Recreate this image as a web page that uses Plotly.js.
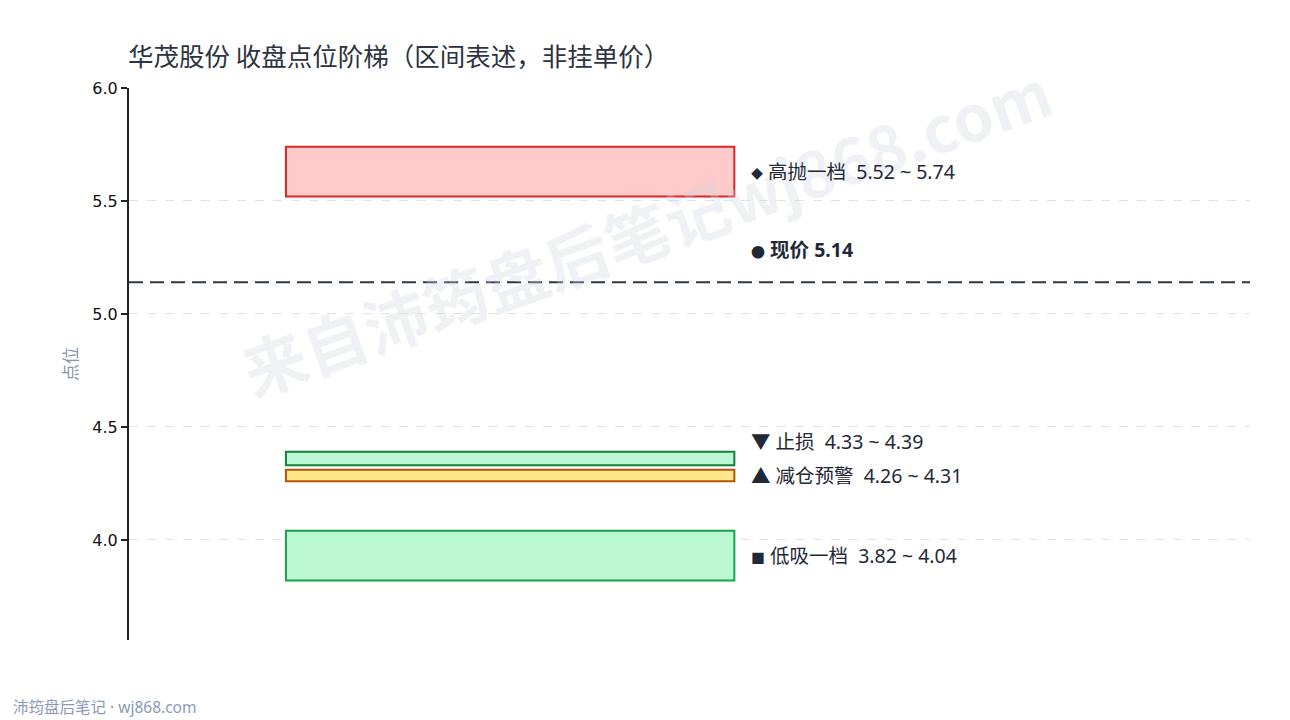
<!DOCTYPE html>
<html><head><meta charset="utf-8">
<script src="https://cdn.plot.ly/plotly-3.0.1.min.js"></script>
<style>html,body{margin:0;padding:0;background:#fff;}#chart{width:1290px;height:720px;}</style>
</head><body><div id="chart"></div>
<script>
const zoneNames = ["高抛一档", "止损", "减仓预警", "低吸一档"];
const zoneIcons = ["◆", "▼", "▲", "■"];
const zoneLow = [5.52, 4.33, 4.26, 3.82];
const zoneHigh = [5.74, 4.39, 4.31, 4.04];
const zoneFill = ["#fecaca", "#bbf7d0", "#fde68a", "#bbf7d0"];
const zoneLine = ["#dc2626", "#15803d", "#b45309", "#16a34a"];
const labelShift = [0, 17, 0, 0];
const currentPrice = 5.14;
const yTicks = [4.0, 4.5, 5.0, 5.5, 6.0];

const FONT = "Noto Sans, Noto Sans CJK SC, sans-serif";
const CJK = "Noto Sans CJK SC, Noto Sans, sans-serif";
const shapes = [];
const annotations = [];
annotations.push({xref: "paper", yref: "paper", x: 0.461, y: 0.745, xanchor: "center", yanchor: "middle", showarrow: false, textangle: -19.5,
  text: "<b>来自沛筠盘后笔记wj868.com</b>", font: {family: CJK, size: 64, color: "rgba(205,211,225,0.32)"}});
zoneNames.forEach((n, i) => {
  shapes.push({type: "rect", xref: "x", yref: "y", x0: 0.14, x1: 0.54, y0: zoneLow[i], y1: zoneHigh[i],
    fillcolor: zoneFill[i], line: {color: zoneLine[i], width: 2}, layer: "above"});
  const icon = i === 0 ? '<span style="font-size:12px">' + zoneIcons[i] + '</span>' :
               (i === 3 ? '<span style="font-size:14px">' + zoneIcons[i] + '</span>' : zoneIcons[i]);
  annotations.push({xref: "x", yref: "y", x: 0.553, y: (zoneLow[i] + zoneHigh[i]) / 2, yshift: labelShift[i],
    xanchor: "left", yanchor: "middle", showarrow: false,
    text: icon + " " + n + "&nbsp;&nbsp;" + zoneLow[i].toFixed(2) + "&nbsp;~&nbsp;" + zoneHigh[i].toFixed(2),
    font: {family: FONT, size: 19.5, color: "#1f2937"}});
});
shapes.push({type: "line", xref: "paper", yref: "y", x0: 0, x1: 1, y0: currentPrice, y1: currentPrice,
  line: {color: "#2d3748", width: 2, dash: "14px,7px"}});
annotations.push({xref: "x", yref: "y", x: 0.553, y: currentPrice, yshift: 33, xanchor: "left", yanchor: "middle",
  showarrow: false, text: '<span style="font-size:14px">●</span> <b>现价 ' + currentPrice.toFixed(2) + "</b>", font: {family: FONT, size: 19.5, color: "#1f2937"}});
annotations.push({xref: "paper", yref: "paper", x: -118/1121, y: -67/552, xanchor: "left", yanchor: "middle", showarrow: false,
  text: "沛筠盘后笔记&nbsp;·&nbsp;wj868.com", font: {family: FONT, size: 15.5, color: "#8a9ab8"}});

const layout = {
  width: 1290, height: 720,
  margin: {l: 129, r: 40, t: 88, b: 80},
  paper_bgcolor: "#ffffff", plot_bgcolor: "#ffffff",
  title: {text: "华茂股份 收盘点位阶梯（区间表述，非挂单价）", x: 128/1290, xanchor: "left", y: 1 - 57/720, yanchor: "middle",
    font: {family: CJK, size: 25.5, color: "#2d3340"}},
  xaxis: {range: [0, 1], visible: false, fixedrange: true},
  yaxis: {range: [3.557, 6.0], tickvals: yTicks, ticktext: yTicks.map(v => v.toFixed(1)),
    showline: true, linecolor: "#222", linewidth: 2, ticks: "outside", ticklen: 6, tickwidth: 1.5, tickcolor: "#222",
    showgrid: true, gridcolor: "#e2e2e2", griddash: "dash", gridwidth: 1, zeroline: false,
    tickfont: {family: "DejaVu Sans, sans-serif", size: 16, color: "#111"},
    title: {text: "点位", font: {family: CJK, size: 17, color: "#8a94a6"}, standoff: 10}},
  shapes: shapes, annotations: annotations, showlegend: false
};
Plotly.newPlot("chart", [], layout, {displayModeBar: false, staticPlot: true});
</script></body></html>
